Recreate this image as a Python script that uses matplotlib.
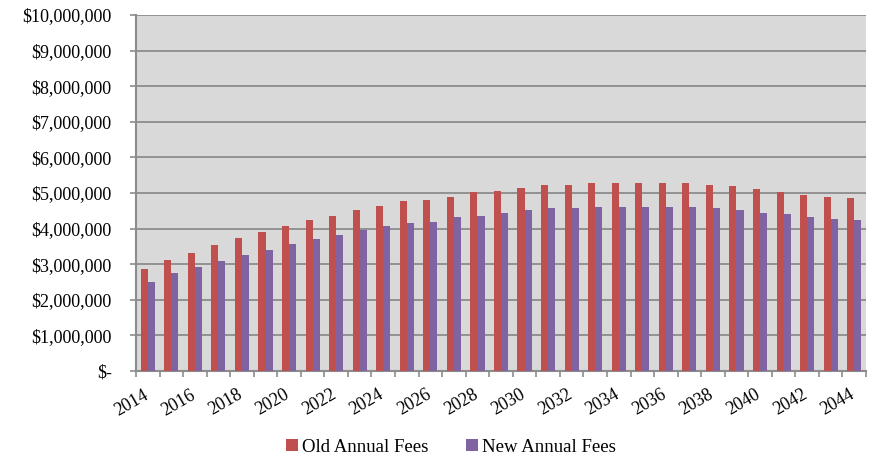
import matplotlib
matplotlib.use("Agg")
import matplotlib.pyplot as plt
import matplotlib.transforms as mtransforms
import numpy as np
from matplotlib.ticker import FuncFormatter, MultipleLocator, FixedLocator

years = list(range(2014, 2045))
old_fees = [2.86, 3.11, 3.31, 3.53, 3.73, 3.90, 4.07, 4.24, 4.35, 4.52,
            4.63, 4.77, 4.80, 4.88, 5.02, 5.05, 5.14, 5.22, 5.22, 5.28,
            5.28, 5.28, 5.28, 5.28, 5.22, 5.19, 5.11, 5.02, 4.94, 4.88, 4.86]
new_fees = [2.49, 2.75, 2.92, 3.08, 3.25, 3.39, 3.56, 3.70, 3.82, 3.96,
            4.07, 4.15, 4.18, 4.32, 4.35, 4.43, 4.52, 4.575, 4.575, 4.60,
            4.60, 4.60, 4.60, 4.60, 4.575, 4.52, 4.43, 4.41, 4.32, 4.27, 4.24]
old_fees = [v * 1e6 for v in old_fees]
new_fees = [v * 1e6 for v in new_fees]
series_names = ["Old Annual Fees", "New Annual Fees"]
colors = ["#C0504D", "#8064A2"]

plt.rcParams['font.family'] = ['Liberation Serif', 'DejaVu Serif']

fig = plt.figure(figsize=(8.69, 4.57), dpi=100)
ax = fig.add_axes([136/869, 1 - 371/457, 730/869, 356/457])
ax.set_facecolor("#D9D9D9")

x = np.arange(len(years))
w = 0.3
ax.bar(x - w/2, old_fees, width=w, color=colors[0], label=series_names[0], zorder=3)
ax.bar(x + w/2, new_fees, width=w, color=colors[1], label=series_names[1], zorder=3)

ax.set_xlim(-0.5, len(years) - 0.5)
ax.set_ylim(0, 10e6)
ax.yaxis.set_major_locator(MultipleLocator(1e6))

def fmt(v, pos):
    if v == 0:
        return "$-"
    return "${:,.0f}".format(v)
ax.yaxis.set_major_formatter(FuncFormatter(fmt))

ax.grid(axis='y', color='#8C8C8C', linewidth=1.3, zorder=1)
ax.set_axisbelow(True)

# x ticks: marks at category boundaries, labels every other year
ax.xaxis.set_major_locator(FixedLocator(np.arange(-0.5, len(years), 1.0)))
ax.set_xticklabels([])
ax.xaxis.set_minor_locator(FixedLocator(x[::2]))
ax.set_xticklabels([str(y) for y in years[::2]], minor=True)
ax.tick_params(axis='x', which='major', length=4, width=1.2, color='#8C8C8C', direction='out')
ax.tick_params(axis='x', which='minor', length=0, pad=11, labelsize=13)
shift = mtransforms.ScaledTranslation(-5/100, 0, fig.dpi_scale_trans)
for lbl in ax.get_xticklabels(minor=True):
    lbl.set_rotation(30)
    lbl.set_ha('right')
    lbl.set_va('top')
    lbl.set_rotation_mode('anchor')
    lbl.set_transform(lbl.get_transform() + shift)
ax.tick_params(axis='y', length=4.5, width=1.2, color='#8C8C8C', labelsize=13, pad=13)

for s in ['top', 'right']:
    ax.spines[s].set_visible(False)
for s in ['left', 'bottom']:
    ax.spines[s].set_color('#8C8C8C')
    ax.spines[s].set_linewidth(1.5)

leg = fig.legend(loc='center', bbox_to_anchor=(451/869, 1 - 447/457), ncol=2,
                 frameon=False, fontsize=13.5, handlelength=0.65, handleheight=0.65,
                 handletextpad=0.2, columnspacing=2.0)

fig.savefig("out.png", dpi=100)
